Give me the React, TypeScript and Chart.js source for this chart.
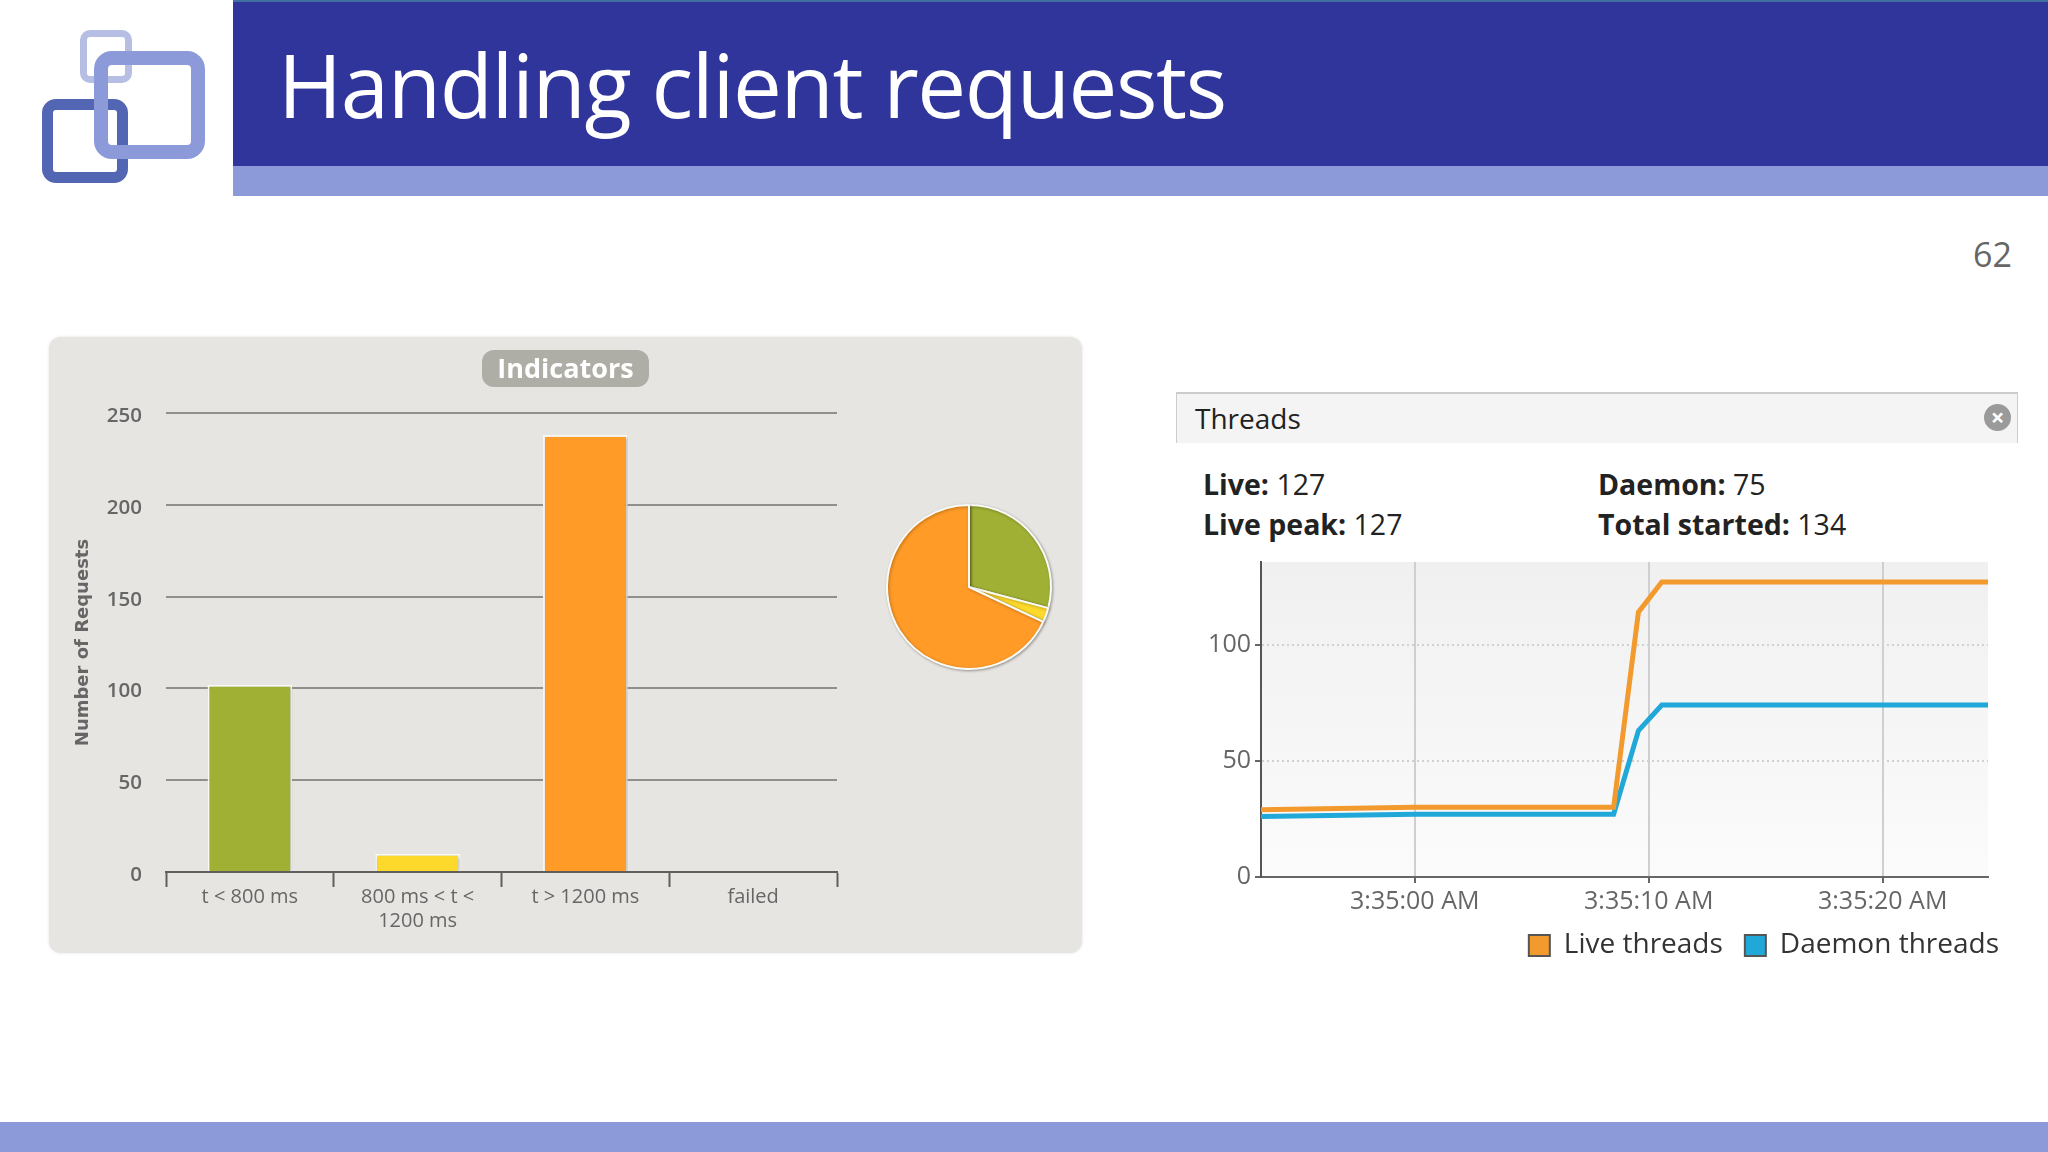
import React, { useEffect, useRef } from 'react';
import { Chart, registerables } from 'chart.js';

Chart.register(...registerables);

const FONT = '"Open Sans", sans-serif';

const barCategories = ['t < 800 ms', ['800 ms < t <', '1200 ms'], 't > 1200 ms', 'failed'];
const pieCategories = ['t < 800 ms', '800 ms < t < 1200 ms', 't > 1200 ms', 'failed'];
const requestCounts = [102, 10, 238, 0];
const requestColors = ['#a0b035', '#fdd92c', '#ff9b26', '#888888'];
const requestTicks = [0, 50, 100, 150, 200, 250];

const threadSeconds = [-6.57, 0, 8.5, 9.56, 10.56, 24.5];
const liveThreads = [29, 30, 30, 114, 127, 127];
const daemonThreads = [26, 27, 27, 63, 74, 74];
const threadTicks = [0, 10, 20];
const threadValueTicks = [0, 50, 100];
const threadTickLabels = ['3:35:00 AM', '3:35:10 AM', '3:35:20 AM'];

const shadowPlugin = {
  id: 'softShadow',
  beforeDatasetsDraw(chart: any) {
    const { ctx } = chart;
    ctx.save();
    ctx.shadowColor = 'rgba(0,0,0,0.3)';
    ctx.shadowBlur = 3;
    ctx.shadowOffsetX = 1;
    ctx.shadowOffsetY = 1;
  },
  afterDatasetsDraw(chart: any) {
    chart.ctx.restore();
  },
};

const plotBackground = {
  id: 'plotBackground',
  beforeDraw(chart: any) {
    const { ctx, chartArea: a } = chart;
    const fill = ctx.createLinearGradient(0, a.top, 0, a.bottom);
    fill.addColorStop(0, '#f0f0f1');
    fill.addColorStop(1, '#fbfbfc');
    ctx.fillStyle = fill;
    ctx.fillRect(a.left, a.top, a.right - a.left, a.bottom - a.top);
  },
};

// the legend in the reference runs past the right edge of the plot
const legendShift = {
  id: 'legendShift',
  afterLayout(chart: any) {
    chart.legend.left += 33;
    chart.legend.right += 33;
  },
};

const RequestBars = () => {
  const ref = useRef<HTMLCanvasElement>(null);
  useEffect(() => {
    const chart = new Chart(ref.current!, {
      type: 'bar',
      data: {
        labels: barCategories as any,
        datasets: [{
          data: requestCounts,
          backgroundColor: requestColors,
          borderColor: '#fbfbf6',
          borderWidth: { top: 2, left: 2, right: 2, bottom: 0 },
          categoryPercentage: 1,
          barPercentage: 0.505,
        }],
      },
      options: {
        responsive: false,
        animation: false,
        layout: { padding: { top: 76, right: 246, bottom: 0, left: 0 } },
        plugins: { legend: { display: false }, tooltip: { enabled: false } },
        scales: {
          x: {
            afterFit: (s: any) => { s.height = 81; },
            border: { color: '#5f5f5f', width: 2 },
            grid: { drawOnChartArea: false, tickLength: 15, tickColor: '#5f5f5f', tickWidth: 2 },
            ticks: { autoSkip: false, maxRotation: 0, color: '#666', padding: -2, font: { family: FONT, size: 20 } },
          },
          y: {
            min: 0,
            max: 250,
            afterFit: (s: any) => { s.width = 118; },
            afterBuildTicks: (s: any) => { s.ticks = requestTicks.map((value) => ({ value })); },
            border: { display: false },
            grid: { color: '#8f8f8c', lineWidth: 2, drawTicks: false },
            ticks: {
              color: '#666',
              padding: 24,
              font: { family: FONT, size: 20.5, weight: 600, lineHeight: 0.3 },
              // empty first line nudges the number just below its grid line
              callback: (v: any) => ['', String(v)],
            },
            title: { display: true, text: 'Number of Requests', color: '#666', padding: { top: 25, bottom: 0 }, font: { family: '"DejaVu Sans", sans-serif', size: 18, weight: 'bold' } },
          },
        },
      },
      plugins: [shadowPlugin],
    });
    return () => chart.destroy();
  }, []);
  return <canvas ref={ref} width={1035} height={616} style={{ position: 'absolute', left: 48, top: 337 }} />;
};

const RequestPie = () => {
  const ref = useRef<HTMLCanvasElement>(null);
  useEffect(() => {
    const chart = new Chart(ref.current!, {
      type: 'pie',
      data: {
        labels: pieCategories,
        datasets: [{ data: requestCounts, backgroundColor: requestColors, borderColor: '#fbfbf6', borderWidth: 2 }],
      },
      options: {
        responsive: false,
        animation: false,
        layout: { padding: 7 },
        plugins: { legend: { display: false }, tooltip: { enabled: false } },
      },
      plugins: [shadowPlugin],
    });
    return () => chart.destroy();
  }, []);
  return <canvas ref={ref} width={180} height={180} style={{ position: 'absolute', left: 879, top: 497 }} />;
};

const ThreadLines = () => {
  const ref = useRef<HTMLCanvasElement>(null);
  useEffect(() => {
    const points = (values: number[]) => values.map((y, i) => ({ x: threadSeconds[i], y }));
    const chart = new Chart(ref.current!, {
      type: 'line',
      data: {
        datasets: [
          { label: 'Live threads', data: points(liveThreads), borderColor: '#f29a2e', backgroundColor: '#f29a2e', borderWidth: 5, pointRadius: 0, tension: 0 },
          { label: 'Daemon threads', data: points(daemonThreads), borderColor: '#1fa8d8', backgroundColor: '#1fa8d8', borderWidth: 5, pointRadius: 0, tension: 0 },
        ],
      },
      options: {
        responsive: false,
        animation: false,
        layout: { padding: { top: 14.5, right: 22, bottom: 10.5, left: 0 } },
        plugins: {
          tooltip: { enabled: false },
          legend: {
            position: 'bottom',
            align: 'end',
            labels: {
              boxWidth: 21,
              boxHeight: 21,
              color: '#333',
              padding: 22,
              font: { family: FONT, size: 28 },
              generateLabels: (c: any) =>
                Chart.defaults.plugins.legend.labels.generateLabels(c).map((item: any) => ({ ...item, strokeStyle: '#555', lineWidth: 2 })),
            },
          },
        },
        scales: {
          x: {
            type: 'linear',
            min: -6.57,
            max: 24.5,
            afterFit: (s: any) => { s.height = 32.5; },
            afterBuildTicks: (s: any) => { s.ticks = threadTicks.map((value) => ({ value })); },
            border: { color: '#666', width: 2 },
            grid: { color: '#cfcfd2', lineWidth: 2, tickLength: 6, tickColor: '#666' },
            ticks: {
              color: '#666',
              padding: 4,
              maxRotation: 0,
              font: { family: FONT, size: 25 },
              callback: (v: any) => threadTickLabels[threadTicks.indexOf(v)],
            },
          },
          y: {
            min: 0,
            max: 135.6,
            afterFit: (s: any) => { s.width = 81; },
            afterBuildTicks: (s: any) => { s.ticks = threadValueTicks.map((value) => ({ value })); },
            border: { color: '#555', width: 2, dash: [2, 3] },
            grid: { color: '#d0d0d3', lineWidth: 2, tickLength: 6, tickColor: '#666' },
            ticks: { color: '#666', padding: 4, font: { family: FONT, size: 25 } },
          },
        },
      },
      plugins: [plotBackground, legendShift],
    });
    return () => chart.destroy();
  }, []);
  return <canvas ref={ref} width={830} height={437} style={{ position: 'absolute', left: 1180, top: 543 }} />;
};

const box = (left: number, top: number, right: number, bottom: number, border: number, color: string, radius: number): React.CSSProperties => ({
  position: 'absolute', left, top, width: right - left, height: bottom - top, boxSizing: 'border-box',
  border: `${border}px solid ${color}`, borderRadius: radius,
});

const stat = (left: number, top: number, label: string, value: string) => (
  <div style={{ position: 'absolute', left, top, fontSize: 28.5, color: '#222', whiteSpace: 'nowrap', lineHeight: '36px' }}>
    <b>{label}</b> {value}
  </div>
);

export default function App() {
  useEffect(() => {
    document.body.style.margin = '0';
  }, []);
  return (
    <div style={{ position: 'absolute', left: 0, top: 0, width: 2048, height: 1152, overflow: 'hidden', background: '#fff', fontFamily: FONT }}>
      <div style={{ position: 'absolute', left: 233, top: 0, right: 0, height: 166, background: '#30359b', borderTop: '2px solid #3f6f9f', boxSizing: 'border-box' }} />
      <div style={{ position: 'absolute', left: 233, top: 166, right: 0, height: 30, background: '#8d9ad9' }} />
      <div style={{ position: 'absolute', left: 0, top: 1122, right: 0, height: 30, background: '#8d9ad9' }} />
      <div style={box(80, 30, 132, 83, 7, '#b6bee4', 10)} />
      <div style={box(42, 99, 128, 183, 11, '#5266b4', 14)} />
      <div style={box(94, 51, 205, 159, 14, '#8d9ad9', 18)} />
      <div style={{ position: 'absolute', left: 278, top: 24, fontSize: 87, fontWeight: 400, letterSpacing: -1.4, color: '#fff', lineHeight: '120px', whiteSpace: 'nowrap' }}>Handling client requests</div>
      <div style={{ position: 'absolute', left: 1973, top: 231, fontSize: 34, color: '#666', lineHeight: '46px' }}>62</div>

      <div style={{ position: 'absolute', left: 49, top: 337, width: 1033, height: 616, background: '#e6e5e2', borderRadius: 12, boxShadow: '0 0 3px rgba(0,0,0,0.12)' }} />
      <RequestBars />
      <RequestPie />
      <div style={{ position: 'absolute', left: 482, top: 350, width: 167, height: 37, background: '#aeaea6', borderRadius: 12, color: '#fff', fontWeight: 700, fontSize: 27, lineHeight: '35px', textAlign: 'center' }}>Indicators</div>

      <div style={{ position: 'absolute', left: 1176, top: 392, width: 842, height: 51, boxSizing: 'border-box', background: '#f4f4f5', borderTop: '2px solid #ccc', borderLeft: '1px solid #ccc', borderRight: '1px solid #ccc', fontSize: 28, lineHeight: '48px', paddingLeft: 18, color: '#222' }}>Threads</div>
      <div style={{ position: 'absolute', left: 1984, top: 404, width: 27, height: 27, borderRadius: 14, background: '#9a9a9a', color: '#fff', fontSize: 24, fontWeight: 700, lineHeight: '26px', textAlign: 'center' }}>×</div>
      {stat(1203, 466, 'Live:', '127')}
      {stat(1203, 506, 'Live peak:', '127')}
      {stat(1598, 466, 'Daemon:', '75')}
      {stat(1598, 506, 'Total started:', '134')}
      <ThreadLines />
    </div>
  );
}
